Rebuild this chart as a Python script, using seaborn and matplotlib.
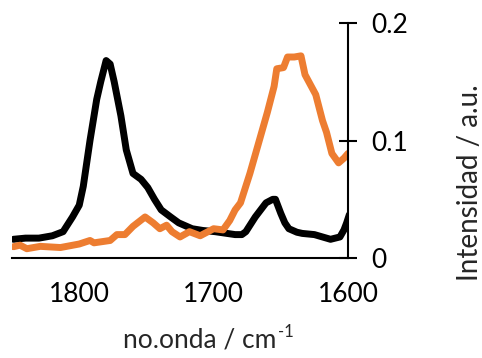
import numpy as np
import pandas as pd
import matplotlib
matplotlib.use("Agg")
import matplotlib.pyplot as plt
import seaborn as sns

# Black spectrum (wavenumber, intensity)
black_x = [1849, 1840, 1830, 1820, 1812, 1805, 1800, 1797, 1792, 1787, 1784, 1780, 1777, 1774,
           1769, 1765, 1760, 1754, 1749, 1744, 1739, 1732, 1726, 1716, 1708, 1699, 1690, 1684,
           1679, 1676, 1669, 1661, 1656, 1654, 1650, 1647, 1644, 1638, 1634, 1625, 1619, 1613,
           1606, 1603, 1601, 1599]
black_y = [0.016, 0.017, 0.017, 0.019, 0.0225, 0.035, 0.045, 0.061, 0.100, 0.135, 0.150, 0.168,
           0.165, 0.150, 0.121, 0.092, 0.072, 0.067, 0.060, 0.050, 0.041, 0.035, 0.030, 0.025,
           0.0235, 0.0225, 0.021, 0.020, 0.020, 0.0225, 0.035, 0.047, 0.050, 0.050, 0.038,
           0.030, 0.025, 0.022, 0.021, 0.020, 0.018, 0.016, 0.018, 0.024, 0.030, 0.037]

# Orange spectrum
orange_x = [1849, 1844, 1839, 1829, 1814, 1800, 1792, 1789, 1777, 1772, 1766, 1760, 1751,
            1745, 1740, 1735, 1731, 1725, 1718, 1710, 1700, 1693, 1688, 1684, 1680, 1673,
            1668, 1660, 1655, 1653, 1648, 1645, 1640, 1635, 1632, 1624, 1619, 1616, 1612,
            1607, 1603, 1600]
orange_y = [0.0097, 0.011, 0.008, 0.010, 0.009, 0.012, 0.015, 0.013, 0.015, 0.020, 0.020, 0.027,
            0.035, 0.030, 0.025, 0.028, 0.0225, 0.018, 0.0225, 0.019, 0.025, 0.024, 0.032, 0.041,
            0.047, 0.072, 0.092, 0.124, 0.146, 0.161, 0.162, 0.171, 0.171, 0.172, 0.156, 0.139,
            0.117, 0.107, 0.089, 0.081, 0.085, 0.089]

x_ticks = [1800, 1700, 1600]
y_ticks = [0, 0.1, 0.2]
y_ticklabels = ["0", "0.1", "0.2"]

sns.set_theme(style="white")
plt.rcParams["font.family"] = ["Lato", "DejaVu Sans"]

df = pd.concat([
    pd.DataFrame({"x": black_x, "y": black_y, "s": "black"}),
    pd.DataFrame({"x": orange_x, "y": orange_y, "s": "orange"}),
])

fig = plt.figure(figsize=(4.82, 3.58), dpi=100)
ax = fig.add_axes([0.025, 0.279, 0.697, 0.657])
sns.lineplot(data=df, x="x", y="y", hue="s",
             palette={"black": "#000000", "orange": "#ED7D31"},
             linewidth=5, legend=False, ax=ax, estimator=None, sort=True,
             solid_joinstyle="round", solid_capstyle="round")

ax.set_xlim(1850, 1600)
ax.set_ylim(0, 0.2)
ax.set_xticks(x_ticks)
ax.set_xticklabels([str(v) for v in x_ticks])
ax.set_yticks(y_ticks)
ax.set_yticklabels(y_ticklabels)
ax.yaxis.tick_right()
for s in ["top", "left"]:
    ax.spines[s].set_visible(False)
for s in ["right", "bottom"]:
    ax.spines[s].set_linewidth(1.5)
    ax.spines[s].set_color("black")
ax.tick_params(axis="both", direction="inout", length=13, width=1.5,
               labelsize=19, colors="black")
ax.tick_params(axis="x", pad=11)
ax.tick_params(axis="y", pad=10)
ax.set_xlabel("")
ax.set_ylabel("")

t = fig.text(0.415, 0.05, "no.onda / cm", ha="center", va="center", fontsize=19)
ax.annotate("-1", xy=(1, 1), xycoords=t, xytext=(1, -3), textcoords="offset points",
            ha="left", va="center", fontsize=12, annotation_clip=False)
fig.text(0.975, 0.49, "Intensidad / a.u.", ha="center", va="center",
         rotation=90, fontsize=20)

fig.savefig("out.png", dpi=100)
